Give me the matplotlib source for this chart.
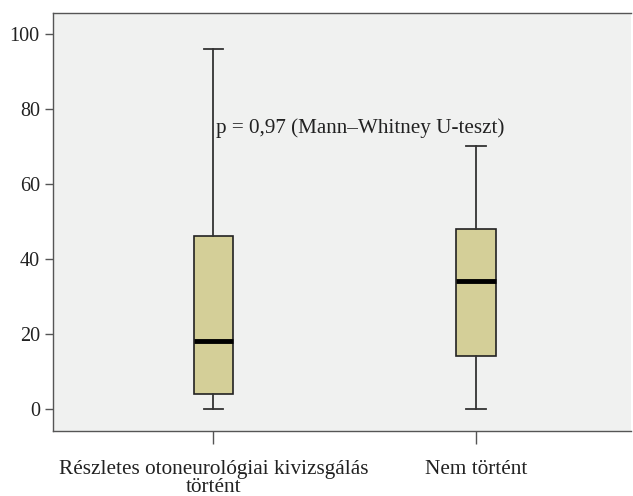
import matplotlib.pyplot as plt

# box statistics
groups = ["Részletes otoneurológiai kivizsgálás\ntörtént", "Nem történt"]
whisker_low = [0, 0]
q1 = [4, 14]
median = [18, 34]
q3 = [46, 48]
whisker_high = [96, 70]
annotation = "p = 0,97 (Mann–Whitney U-teszt)"

plt.rcParams['font.family'] = ['Liberation Serif', 'DejaVu Serif']

fig = plt.figure(figsize=(6.33, 4.96), dpi=100)
ax = fig.add_axes([53 / 633, 1 - 431 / 496, 578 / 633, 418 / 496])
ax.set_facecolor("#f0f1f0")

stats = []
for i in range(len(groups)):
    stats.append({
        "whislo": whisker_low[i], "q1": q1[i], "med": median[i],
        "q3": q3[i], "whishi": whisker_high[i], "fliers": []
    })

ax.bxp(stats, positions=[1, 2], widths=0.149, patch_artist=True, showfliers=False,
       boxprops=dict(facecolor="#d4cf98", edgecolor="#222222", linewidth=1.2),
       medianprops=dict(color="black", linewidth=3.5),
       whiskerprops=dict(color="#333333", linewidth=1.3),
       capprops=dict(color="#333333", linewidth=1.3),
       capwidths=0.074)

ax.set_xlim(0.389, 2.59)
ax.set_ylim(-5.9, 105.6)
ax.set_yticks([0, 20, 40, 60, 80, 100])
ax.set_xticks([1, 2])
ax.set_xticklabels(groups, fontsize=15.3, linespacing=0.95, color="#222222")
ax.tick_params(axis='y', labelsize=14.5, length=6, color="#555555", width=1,
               labelcolor="#222222")
ax.tick_params(axis='x', length=9, color="#555555", width=1, pad=12)

for side in ["top", "right"]:
    ax.spines[side].set_visible(False)
for side in ["left", "bottom"]:
    ax.spines[side].set_color("#555555")
    ax.spines[side].set_linewidth(1)
ax.plot([0.389, 2.59], [105.6, 105.6], color="#555555", lw=1, clip_on=False)

ax.text(1.01, 75, annotation, fontsize=15.2, ha="left", va="center", color="#222222")

fig.savefig("out.png", dpi=100)
